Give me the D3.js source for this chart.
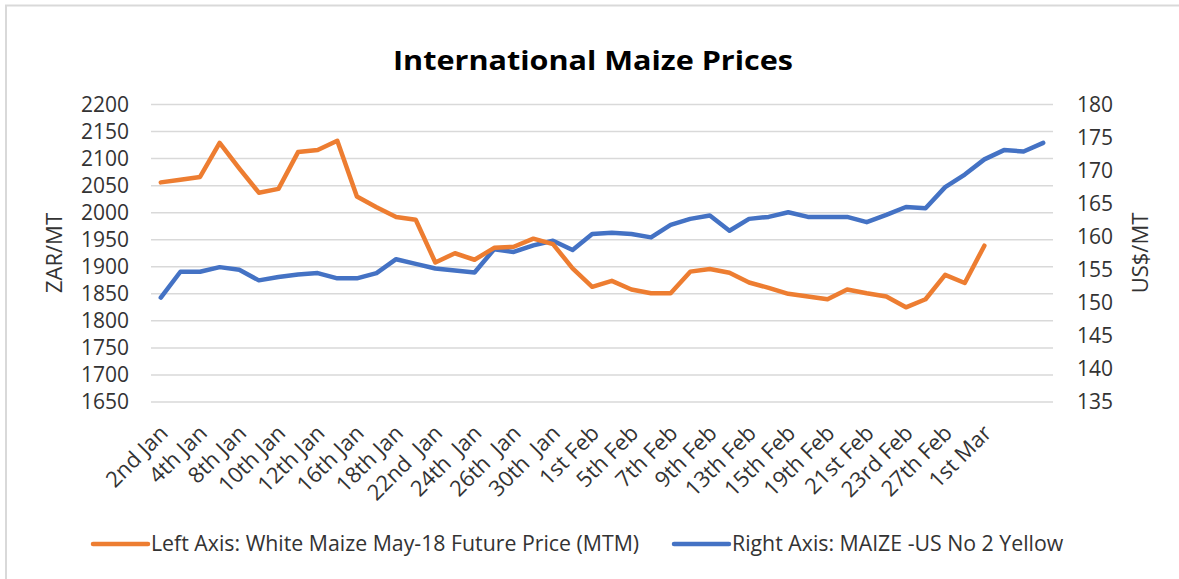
<!DOCTYPE html>
<html>
<head>
<meta charset="utf-8">
<script src="https://cdn.jsdelivr.net/npm/d3@7"></script>
<style>
  body { margin: 0; background: #fff; }
  text { font-family: "Open Sans", "Noto Sans", sans-serif; }
</style>
</head>
<body>
<div id="chart"></div>
<script>
// categories (trading days); only every second one gets a label on the axis
var categories = [
   "2nd Jan", "3rd Jan", "4th Jan", "5th Jan", "8th Jan", "9th Jan", "10th Jan", "11th Jan",
   "12th Jan", "15th Jan", "16th Jan", "17th Jan", "18th Jan", "19th Jan", "22nd  Jan", "23rd  Jan",
   "24th  Jan", "25th  Jan", "26th  Jan", "29th  Jan", "30th  Jan", "31st  Jan", "1st Feb", "2nd Feb",
   "5th Feb", "6th Feb", "7th Feb", "8th Feb", "9th Feb", "12th Feb", "13th Feb", "14th Feb",
   "15th Feb", "16th Feb", "19th Feb", "20th Feb", "21st Feb", "22nd Feb", "23rd Feb", "26th Feb",
   "27th Feb", "28th Feb", "1st Mar", "", "", ""
];

// Left axis: White Maize May-18 Future Price (MTM), ZAR/MT
var whiteMaize = [
   2056, 2061, 2066, 2129, 2082, 2037, 2044, 2112, 2116, 2133, 2030, 2010, 1992, 1987, 1908, 1925,
   1913, 1935, 1937, 1952, 1942, 1897, 1863, 1874, 1858, 1851, 1851, 1891, 1896, 1889, 1871, 1861,
   1850, 1845, 1840, 1858, 1851, 1845, 1825, 1840, 1885, 1870, 1939
];

// Right axis: MAIZE - US No 2 Yellow, US$/MT
var usYellow = [
   150.8, 154.7, 154.7, 155.4, 155.0, 153.4, 153.9, 154.3, 154.5, 153.7, 153.7, 154.5, 156.6, 155.9, 155.2, 154.9,
   154.6, 158.1, 157.7, 158.7, 159.4, 158.0, 160.4, 160.6, 160.4, 159.9, 161.8, 162.7, 163.2, 160.9, 162.7, 163.0,
   163.7, 163.0, 163.0, 163.0, 162.2, 163.3, 164.5, 164.3, 167.5, 169.4, 171.7, 173.1, 172.9, 174.2
];

var leftTicks = d3.range(1650, 2201, 50);
var rightTicks = d3.range(135, 181, 5);

var width = 1179,
   height = 579,
   plot = {left: 151, right: 1053, top: 104.5, bottom: 402};

var orange = "#ED7D31",
   blue = "#4472C4",
   grid = "#D9D9D9",
   labelColor = "#333333";

var svg = d3.select("#chart").append("svg")
   .attr("width", width)
   .attr("height", height);

// chart border (only top and left are inside the picture)
svg.append("rect")
   .attr("x", 6).attr("y", 5.5)
   .attr("width", 1300).attr("height", 700)
   .attr("fill", "none")
   .attr("stroke", "#D9D9D9")
   .attr("stroke-width", 2);

var x = d3.scaleBand()
   .domain(d3.range(categories.length))
   .range([plot.left, plot.right]);

var yLeft = d3.scaleLinear()
   .domain([1650, 2200])
   .range([plot.bottom, plot.top]);

var yRight = d3.scaleLinear()
   .domain([135, 180])
   .range([plot.bottom, plot.top]);

function cx(i) { return x(i) + x.bandwidth() / 2; }

// gridlines
svg.append("g").selectAll("line")
   .data(leftTicks)
   .enter().append("line")
   .attr("x1", plot.left).attr("x2", plot.right)
   .attr("y1", function(d) { return yLeft(d); })
   .attr("y2", function(d) { return yLeft(d); })
   .attr("stroke", grid)
   .attr("stroke-width", 1.5);

// left axis
var leftAxis = svg.append("g")
   .attr("transform", "translate(" + (plot.left - 22) + ",0)")
   .call(d3.axisLeft(yLeft).tickValues(leftTicks).tickFormat(d3.format("d")).tickSize(0).tickPadding(0));
leftAxis.select(".domain").remove();
leftAxis.selectAll("text")
   .attr("fill", labelColor)
   .style("font-size", "21px");

// right axis
var rightAxis = svg.append("g")
   .attr("transform", "translate(" + (plot.right + 24) + ",0)")
   .call(d3.axisRight(yRight).tickValues(rightTicks).tickSize(0).tickPadding(0));
rightAxis.select(".domain").remove();
rightAxis.selectAll("text")
   .attr("fill", labelColor)
   .style("font-size", "21px");

// category labels, every second one, rotated
var xAxis = svg.append("g")
   .attr("transform", "translate(0," + (plot.bottom + 26) + ")")
   .call(d3.axisBottom(x)
      .tickValues(d3.range(0, categories.length, 2))
      .tickFormat(function(i) { return categories[i]; })
      .tickSize(0));
xAxis.select(".domain").remove();
xAxis.selectAll("text")
   .attr("fill", labelColor)
   .style("font-size", "22px")
   .style("white-space", "pre")
   .attr("text-anchor", "end")
   .attr("y", 0)
   .attr("dy", "0.35em")
   .attr("transform", "translate(3,1) rotate(-45)");

// axis titles
svg.append("text")
   .attr("transform", "translate(62,253) rotate(-90)")
   .attr("text-anchor", "middle")
   .attr("fill", labelColor)
   .style("font-size", "22px")
   .text("ZAR/MT");

svg.append("text")
   .attr("transform", "translate(1148,253) rotate(-90)")
   .attr("text-anchor", "middle")
   .attr("fill", labelColor)
   .style("font-size", "22px")
   .text("US$/MT");

// series
var lineLeft = d3.line()
   .x(function(d, i) { return cx(i); })
   .y(function(d) { return yLeft(d); });

var lineRight = d3.line()
   .x(function(d, i) { return cx(i); })
   .y(function(d) { return yRight(d); });

svg.append("path")
   .datum(usYellow)
   .attr("d", lineRight)
   .attr("fill", "none")
   .attr("stroke", blue)
   .attr("stroke-width", 4.5)
   .attr("stroke-linejoin", "round")
   .attr("stroke-linecap", "round");

svg.append("path")
   .datum(whiteMaize)
   .attr("d", lineLeft)
   .attr("fill", "none")
   .attr("stroke", orange)
   .attr("stroke-width", 4.5)
   .attr("stroke-linejoin", "round")
   .attr("stroke-linecap", "round");

// title
svg.append("text")
   .attr("x", 593)
   .attr("y", 70)
   .attr("text-anchor", "middle")
   .attr("fill", "#000")
   .attr("textLength", 400)
   .attr("lengthAdjust", "spacingAndGlyphs")
   .style("font-size", "27px")
   .style("font-weight", "bold")
   .text("International Maize Prices");

// legend
var legendItems = [
   {name: "Left Axis: White Maize May-18 Future Price (MTM)", color: orange, x: 93},
   {name: "Right Axis: MAIZE -US No 2 Yellow", color: blue, x: 674}
];
var legend = svg.append("g").selectAll("g")
   .data(legendItems)
   .enter().append("g")
   .attr("transform", function(d) { return "translate(" + d.x + ",544)"; });
legend.append("line")
   .attr("x1", 0).attr("x2", 55)
   .attr("stroke", function(d) { return d.color; })
   .attr("stroke-width", 4.5)
   .attr("stroke-linecap", "round");
legend.append("text")
   .attr("x", 58)
   .attr("dy", "0.35em")
   .attr("fill", labelColor)
   .style("font-size", "21.3px")
   .text(function(d) { return d.name; });
</script>
</body>
</html>
